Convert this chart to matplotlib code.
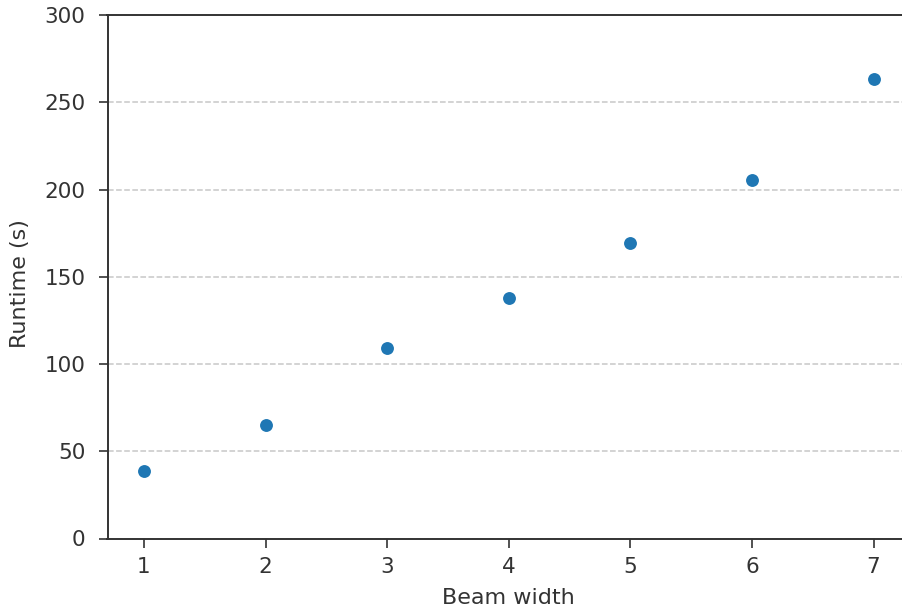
import matplotlib.pyplot as plt

# Runtime vs beam width
beam_width = [1, 2, 3, 4, 5, 6, 7]
runtime = [38.9, 65.0, 109.0, 138.0, 169.5, 205.5, 263.5]
y_ticks = [0, 50, 100, 150, 200, 250, 300]

W, H = 902, 616
fig = plt.figure(figsize=(W / 100, H / 100), dpi=100)
ax = fig.add_axes([107.5 / W, (H - 538.5) / H, (910 - 107.5) / W, (538.5 - 15) / H])

ax.scatter(beam_width, runtime, s=110, color="#1f77b4", edgecolor="white", linewidth=1.2, zorder=3)

ax.set_xlim(0.7, 7.3)
ax.set_ylim(0, 300)
ax.set_xticks(beam_width)
ax.set_yticks(y_ticks)
ax.yaxis.grid(True, linestyle="--", color="#c8c8c8", linewidth=1.1)
ax.set_axisbelow(True)

for s in ax.spines.values():
    s.set_color("#333333")
    s.set_linewidth(1.4)
ax.spines["right"].set_visible(False)

ax.tick_params(axis="both", labelsize=15.5, colors="#333333", length=6.5, width=1.2)
ax.tick_params(axis="y", pad=9.5)
ax.tick_params(axis="x", pad=7)
ax.set_xlabel("Beam width", fontsize=16, color="#333333", labelpad=8)
ax.set_ylabel("Runtime (s)", fontsize=16, color="#333333", labelpad=10)
ax.yaxis.set_label_coords(-0.097, 0.487)

fig.savefig("out.png", dpi=100)
